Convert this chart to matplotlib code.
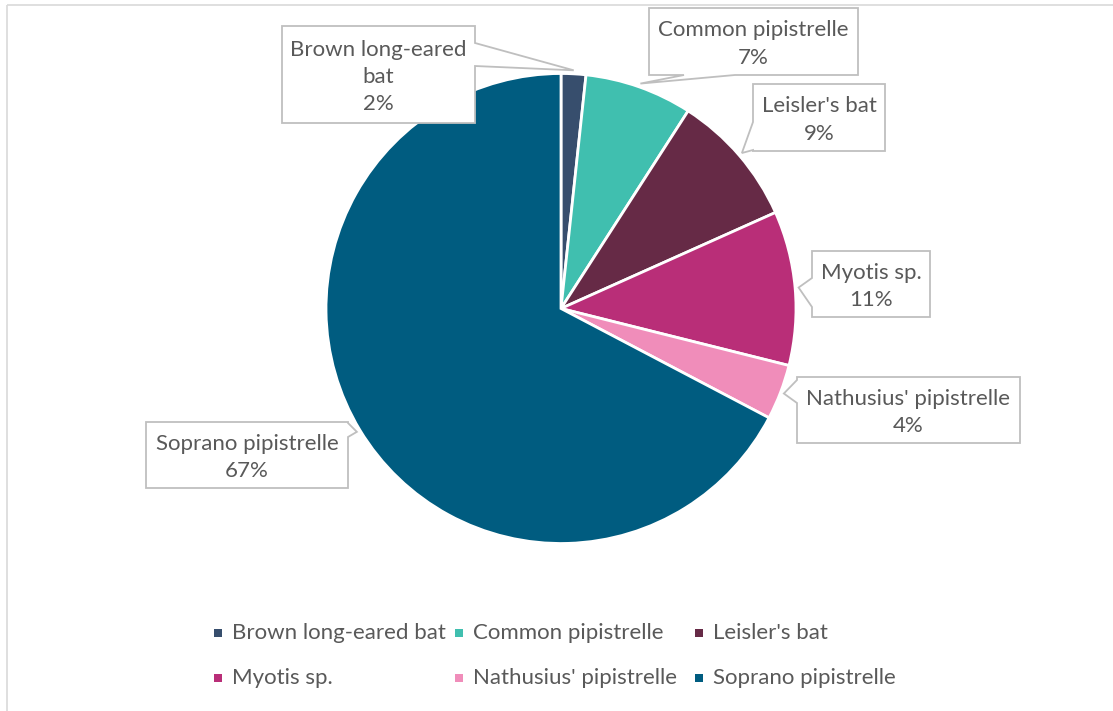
import numpy as np
import matplotlib
matplotlib.use("Agg")
import matplotlib.pyplot as plt
from matplotlib.patches import Polygon, Rectangle

# ---- data -------------------------------------------------------------
species = ["Brown long-eared bat", "Common pipistrelle", "Leisler's bat",
           "Myotis sp.", "Nathusius' pipistrelle", "Soprano pipistrelle"]
callout_names = ["Brown long-eared\nbat", "Common pipistrelle", "Leisler's bat",
                 "Myotis sp.", "Nathusius' pipistrelle", "Soprano pipistrelle"]
share = [1.7, 7.4, 9.2, 10.6, 3.8, 67.3]
colors = ["#374E6D", "#40BFAF", "#662A46", "#B92E78", "#F08DBA", "#005C80"]

# ---- layout (pixels) --------------------------------------------------
W, H = 1113, 711
CX, CY, R = 561, 308.5, 235
TEXT = "#595959"
EDGE = "#BFBFBF"
FONT = "Lato"
FS = 16

# callout boxes: (x0, y0, x1, y1), side holding the pointer, pointer base span
boxes = [
    ((282, 26, 475, 123), "right", (43, 66)),
    ((649, 8, 858, 75), "bottom", (684, 735)),
    ((753, 84, 885, 151), "left", (122, 150)),
    ((812, 251, 930, 317), "left", (278, 307)),
    ((797, 377, 1020, 443), "left", (380, 403)),
    ((146, 422, 348, 488), "right", (423, 437)),
]

fig = plt.figure(figsize=(W / 100, H / 100), dpi=100)
fig.patch.set_facecolor("white")

# pie axes
pax = fig.add_axes([(CX - R) / W, (H - CY - R) / H, 2 * R / W, 2 * R / H])
wedges, _ = pax.pie(share, colors=colors, startangle=90, counterclock=False,
                    radius=1, wedgeprops=dict(edgecolor="white", linewidth=2.0))
pax.set_xlim(-1, 1)
pax.set_ylim(-1, 1)
pax.set_aspect("equal")
pax.axis("off")

# overlay axes in pixel coordinates for callouts, legend and frame
ov = fig.add_axes([0, 0, 1, 1])
ov.set_xlim(0, W)
ov.set_ylim(H, 0)
ov.axis("off")
ov.patch.set_visible(False)
ov.set_zorder(3)

# chart frame (top and left edges)
ov.plot([7, W], [4.5, 4.5], color="#D9D9D9", lw=1.2, solid_capstyle="butt")
ov.plot([7, 7], [4.5, H], color="#D9D9D9", lw=1.2, solid_capstyle="butt")

to_px = lambda pt: ov.transData.inverted().transform(pax.transData.transform(pt))

total = sum(share)
for w, name, val, (rect, side, base) in zip(wedges, callout_names, share, boxes):
    mid = np.deg2rad((w.theta1 + w.theta2) / 2)
    tip = to_px((1.015 * np.cos(mid), 1.015 * np.sin(mid)))
    x0, y0, x1, y1 = rect
    b0, b1 = base
    if side == "right":
        verts = [(x0, y0), (x1, y0), (x1, b0), tip, (x1, b1), (x1, y1), (x0, y1)]
    elif side == "left":
        verts = [(x0, y0), (x1, y0), (x1, y1), (x0, y1), (x0, b1), tip, (x0, b0)]
    else:  # bottom
        verts = [(x0, y0), (x1, y0), (x1, y1), (b1, y1), tip, (b0, y1), (x0, y1)]
    ov.add_patch(Polygon(verts, closed=True, facecolor="white", edgecolor=EDGE,
                         lw=1.3, joinstyle="miter"))
    pct = f"{round(val / total * 100):.0f}%"
    ov.text((x0 + x1) / 2, (y0 + y1) / 2 + 2.5, f"{name}\n{pct}", ha="center",
            va="center", fontsize=FS, family=FONT, color=TEXT, linespacing=1.45)

# legend, three entries per row
leg_x = [218, 459, 699]
leg_y = [633, 678]
for i, (name, c) in enumerate(zip(species, colors)):
    mx, my = leg_x[i % 3], leg_y[i // 3]
    ov.add_patch(Rectangle((mx - 4, my - 4), 8, 8, facecolor=c, edgecolor="none"))
    ov.text(mx + 14, my, name, ha="left", va="center", fontsize=FS,
            family=FONT, color=TEXT)

fig.savefig("out.png", dpi=100, facecolor="white")
